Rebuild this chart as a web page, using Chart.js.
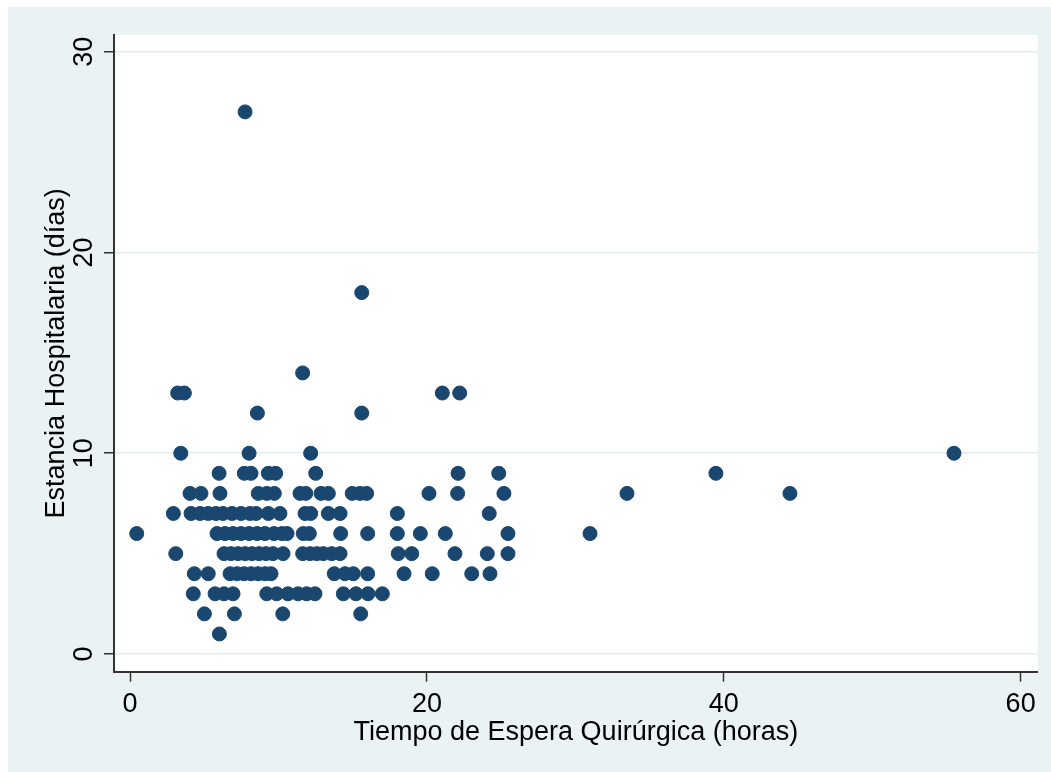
<!DOCTYPE html>
<html>
<head>
<meta charset="utf-8">
<script src="https://cdn.jsdelivr.net/npm/chart.js@4"></script>
<style>
  html, body { margin: 0; padding: 0; background: #fff; }
  #wrap { width: 1051px; height: 772px; }
</style>
</head>
<body>
<div id="wrap"><canvas id="grafico" width="1051" height="772"></canvas></div>
<script>
// tiempo de espera quirúrgica (horas), una fila por valor de estancia
var horasEspera = [
  6.02,
  5.01, 7.03, 10.29, 15.54,
  4.26, 5.73, 6.33, 6.94, 9.21, 9.88, 10.64, 11.32, 11.90, 12.46, 14.37, 15.22, 16.03, 17.00,
  4.33, 5.27, 6.74, 7.21, 7.68, 8.15, 8.62, 9.09, 9.50, 13.76, 14.48, 15.04, 16.01, 18.46, 20.36, 23.02, 24.25,
  3.08, 6.33, 6.80, 7.28, 7.75, 8.22, 8.69, 9.16, 9.63, 10.31, 11.63, 12.13, 12.58, 13.02, 13.59, 14.15, 18.07, 18.98, 21.89, 24.07, 25.46,
  0.45, 5.86, 6.40, 6.94, 7.48, 8.02, 8.56, 9.09, 9.70, 10.24, 10.58, 11.67, 12.08, 14.19, 16.01, 18.01, 19.56, 21.24, 25.46, 30.99,
  2.92, 4.11, 4.72, 5.27, 5.79, 6.26, 6.87, 7.48, 8.08, 8.49, 9.32, 10.10, 11.79, 12.17, 13.36, 14.15, 18.01, 24.20,
  4.04, 4.78, 6.06, 8.64, 9.21, 9.72, 11.45, 11.84, 12.87, 13.36, 14.97, 15.49, 15.94, 20.14, 22.07, 25.19, 33.48, 44.46,
  6.00, 7.70, 8.15, 9.32, 9.81, 12.51, 22.10, 24.84, 39.47,
  3.42, 8.02, 12.17, 55.51,
  8.58, 15.61,
  3.21, 3.66, 21.04, 22.21,
  11.63,
  15.61,
  7.75
];
// estancia hospitalaria (días)
var diasEstancia = [
  1,
  2, 2, 2, 2,
  3, 3, 3, 3, 3, 3, 3, 3, 3, 3, 3, 3, 3, 3,
  4, 4, 4, 4, 4, 4, 4, 4, 4, 4, 4, 4, 4, 4, 4, 4, 4,
  5, 5, 5, 5, 5, 5, 5, 5, 5, 5, 5, 5, 5, 5, 5, 5, 5, 5, 5, 5, 5,
  6, 6, 6, 6, 6, 6, 6, 6, 6, 6, 6, 6, 6, 6, 6, 6, 6, 6, 6, 6,
  7, 7, 7, 7, 7, 7, 7, 7, 7, 7, 7, 7, 7, 7, 7, 7, 7, 7,
  8, 8, 8, 8, 8, 8, 8, 8, 8, 8, 8, 8, 8, 8, 8, 8, 8, 8,
  9, 9, 9, 9, 9, 9, 9, 9, 9,
  10, 10, 10, 10,
  12, 12,
  13, 13, 13, 13,
  14,
  18,
  27
];
var ticksX = [0, 20, 40, 60];
var ticksY = [0, 10, 20, 30];

var puntos = horasEspera.map(function(h, i) {
  return { x: h, y: diasEstancia[i] };
});

var fuente = { family: "'Liberation Sans', Arial, sans-serif", size: 27 };

// fondo gris azulado de Stata y área de trazado blanca
var fondo = {
  id: "fondo",
  beforeDraw: function(chart) {
    var ctx = chart.ctx, a = chart.chartArea;
    ctx.save();
    ctx.fillStyle = "#ffffff";
    ctx.fillRect(0, 0, chart.width, chart.height);
    ctx.fillStyle = "#EAF2F3";
    ctx.fillRect(8, 7, chart.width - 8, chart.height - 7);
    ctx.fillStyle = "#ffffff";
    ctx.fillRect(a.left, a.top, a.right - a.left, a.bottom - a.top);
    ctx.restore();
  }
};

new Chart(document.getElementById("grafico"), {
  type: "scatter",
  data: {
    datasets: [{
      data: puntos,
      backgroundColor: "#1A476F",
      borderColor: "#1A476F",
      borderWidth: 1,
      pointRadius: 7,
      pointHoverRadius: 7
    }]
  },
  options: {
    responsive: false,
    animation: false,
    events: [],
    layout: { padding: { left: 0, top: 35, right: 13.3, bottom: 0 } },
    plugins: {
      legend: { display: false },
      tooltip: { enabled: false }
    },
    scales: {
      x: {
        type: "linear",
        min: -1.08,
        max: 61.15,
        afterFit: function(s) { s.height = 100.3; },
        afterBuildTicks: function(s) { s.ticks = ticksX.map(function(v) { return { value: v }; }); },
        grid: { drawOnChartArea: false, tickLength: 10, tickColor: "#333333", tickWidth: 1.5 },
        border: { color: "#333333", width: 2 },
        ticks: { color: "#000", font: fuente, padding: 6.5, maxRotation: 0 },
        title: {
          display: true,
          text: "Tiempo de Espera Quirúrgica (horas)",
          color: "#000",
          font: fuente,
          padding: { top: 0, bottom: 23 }
        }
      },
      y: {
        type: "linear",
        min: -0.88,
        max: 30.83,
        afterFit: function(s) { s.width = 114; },
        afterBuildTicks: function(s) { s.ticks = ticksY.map(function(v) { return { value: v }; }); },
        grid: { color: "#E4ECEF", lineWidth: 1.5, tickLength: 10, tickColor: "#333333", tickWidth: 1.5 },
        border: { color: "#333333", width: 2 },
        ticks: { color: "#000", font: fuente, padding: 4, minRotation: 90, maxRotation: 90, crossAlign: "center" },
        title: {
          display: true,
          text: "Estancia Hospitalaria (días)",
          color: "#000",
          font: fuente,
          padding: { top: 40.5, bottom: 0 }
        }
      }
    }
  },
  plugins: [fondo]
});
</script>
</body>
</html>
